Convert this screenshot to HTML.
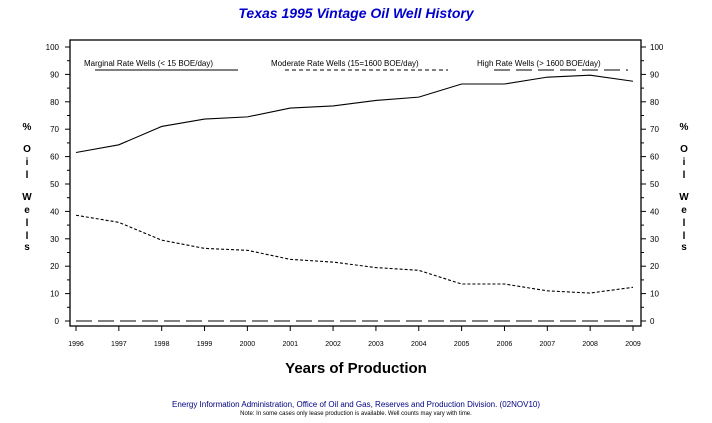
<!DOCTYPE html>
<html><head><meta charset="utf-8"><style>
body{margin:0;background:#fff;}
svg text{font-family:"Liberation Sans",sans-serif;}
</style></head><body>
<svg width="712" height="418" viewBox="0 0 712 418">
<text x="356" y="18" text-anchor="middle" font-size="14" font-style="italic" font-weight="bold" fill="#0000cc">Texas 1995 Vintage Oil Well History</text>
<rect x="70" y="40" width="571" height="286" fill="none" stroke="#000" stroke-width="1.3"/>
<g id="yl"></g>
<g id="yr"></g>
<g id="xa"></g>
<g id="series"></g>
<g font-size="8" fill="#000">
<text x="84" y="66">Marginal Rate Wells (&lt;  15 BOE/day)</text>
<line x1="95" y1="70" x2="238" y2="70" stroke="#000"/>
<text x="271" y="66">Moderate Rate Wells (15=1600 BOE/day)</text>
<line x1="285" y1="70" x2="448" y2="70" stroke="#000" stroke-dasharray="4,3"/>
<text x="477" y="66">High Rate Wells (&gt; 1600 BOE/day)</text>
<line x1="494" y1="70" x2="628" y2="70" stroke="#000" stroke-dasharray="16,6"/>
</g>
<g font-size="10" font-weight="bold" text-anchor="middle">
<text x="27" y="130">%</text><text x="27" y="152">O</text><text x="27" y="165">i</text><text x="27" y="178">l</text><text x="27" y="200">W</text><text x="27" y="213">e</text><text x="27" y="226">l</text><text x="27" y="239">l</text><text x="27" y="250">s</text>
</g>
<g font-size="10" font-weight="bold" text-anchor="middle">
<text x="684" y="130">%</text><text x="684" y="152">O</text><text x="684" y="165">i</text><text x="684" y="178">l</text><text x="684" y="200">W</text><text x="684" y="213">e</text><text x="684" y="226">l</text><text x="684" y="239">l</text><text x="684" y="250">s</text>
</g>
<text x="356" y="373" text-anchor="middle" font-size="15" font-weight="bold">Years of Production</text>
<text x="356" y="407" text-anchor="middle" font-size="8" fill="#000080">Energy Information Administration, Office of Oil and Gas, Reserves and Production Division. (02NOV10)</text>
<text x="356" y="415" text-anchor="middle" font-size="6" fill="#000">Note: In some cases only lease production is available. Well counts may vary with time.</text>
</svg>
<script>
const years=[1996,1997,1998,1999,2000,2001,2002,2003,2004,2005,2006,2007,2008,2009];
const marginal=[61.5,64.3,71,73.7,74.5,77.7,78.5,80.5,81.7,86.5,86.5,89,89.7,87.5];
const moderate=[38.6,36,29.5,26.5,25.8,22.5,21.5,19.5,18.5,13.5,13.5,11,10.2,12.3];
const high=[0,0,0,0,0,0,0,0,0,0,0,0,0,0];
const yTicks=[0,10,20,30,40,50,60,70,80,90,100];
const NS="http://www.w3.org/2000/svg";
const xS=i=>76+i*(633-76)/(years.length-1);
const yS=v=>321-v*(321-47)/100;
function mk(t,a,p){const e=document.createElementNS(NS,t);for(const k in a)e.setAttribute(k,a[k]);p.appendChild(e);return e;}
const yl=document.getElementById('yl'),yr=document.getElementById('yr'),xa=document.getElementById('xa'),sg=document.getElementById('series');
for(let v=0;v<=100;v+=5){const y=yS(v);const L=v%10===0?5:3;
mk('line',{x1:70-L,y1:y,x2:70,y2:y,stroke:'#000'},yl);mk('line',{x1:641,y1:y,x2:641+L,y2:y,stroke:'#000'},yr);}
yTicks.forEach(v=>{const y=yS(v);
const t=mk('text',{x:59,y:y+3,'text-anchor':'end','font-size':8},yl);t.textContent=v;

const t2=mk('text',{x:650,y:y+3,'font-size':8},yr);t2.textContent=v;
});
years.forEach((yr_,i)=>{const x=xS(i);mk('line',{x1:x,y1:326,x2:x,y2:331,stroke:'#000'},xa);
const t=mk('text',{x:x,y:346,'text-anchor':'middle','font-size':7},xa);t.textContent=yr_;
});
function line(d,dash,name){const p=mk('polyline',{points:d.map((v,i)=>xS(i)+','+yS(v)).join(' '),fill:'none',stroke:'#000','stroke-width':1.1,'stroke-dasharray':dash},sg);
}
line(marginal,'none','marginal-line');line(moderate,'3,2','moderate-line');line(high,'16,6','high-line');
</script>
</body></html>
